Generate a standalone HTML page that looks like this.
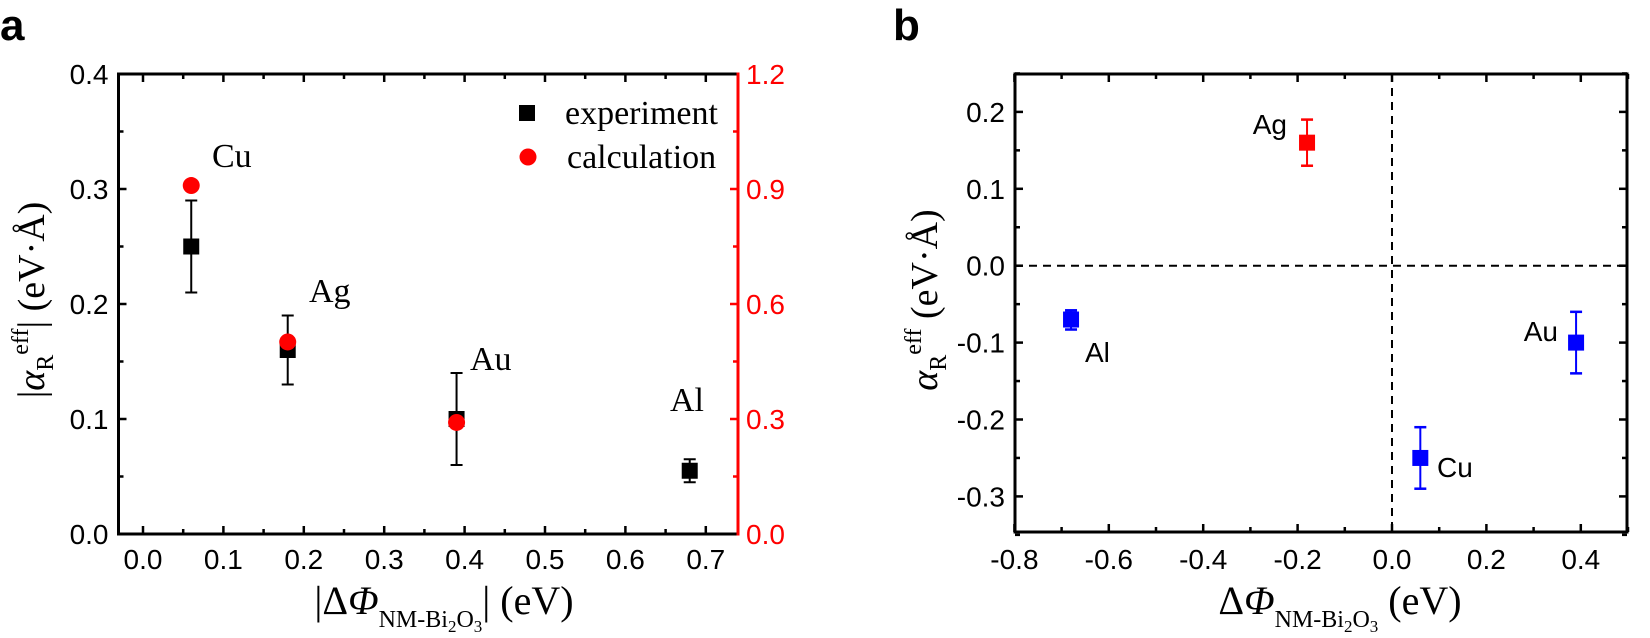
<!DOCTYPE html>
<html><head><meta charset="utf-8"><style>
html,body{margin:0;padding:0;background:#fff;width:1650px;height:638px;overflow:hidden}
svg{display:block}
.t{font-family:"Liberation Sans",sans-serif;font-size:28px}
.s{font-family:"Liberation Serif",serif}
</style></head><body>
<svg id="c" width="1650" height="638" viewBox="0 0 1650 638" xmlns="http://www.w3.org/2000/svg">
<text x="0" y="40" font-family="Liberation Sans,sans-serif" font-weight="bold" font-size="44">a</text>
<text x="893" y="40" font-family="Liberation Sans,sans-serif" font-weight="bold" font-size="44">b</text>
<text class="s" x="444" y="614" font-size="40" text-anchor="middle">|Δ<tspan font-style="italic">Φ</tspan><tspan font-size="24" dy="13">NM-Bi<tspan font-size="17" dy="5">2</tspan><tspan dy="-5">O</tspan><tspan font-size="17" dy="5">3</tspan></tspan><tspan dy="-18">| (eV)</tspan></text>
<text class="s" x="1340" y="614" font-size="40" text-anchor="middle">Δ<tspan font-style="italic">Φ</tspan><tspan font-size="24" dy="13">NM-Bi<tspan font-size="17" dy="5">2</tspan><tspan dy="-5">O</tspan><tspan font-size="17" dy="5">3</tspan></tspan><tspan dy="-18"> (eV)</tspan></text>
<g transform="translate(44,300) rotate(-90)"><text class="s" x="0" y="0" font-size="38" text-anchor="middle">|<tspan font-style="italic">α</tspan><tspan font-size="24" dy="9">R</tspan><tspan font-size="24" dy="-25">eff</tspan><tspan dy="16">| (eV·Å)</tspan></text></g>
<g transform="translate(937,300) rotate(-90)"><text class="s" x="0" y="0" font-size="38" text-anchor="middle"><tspan font-style="italic">α</tspan><tspan font-size="24" dy="9">R</tspan><tspan font-size="24" dy="-25">eff</tspan><tspan dy="16"> (eV·Å)</tspan></text></g>
</svg>
<script>
const S=document.getElementById('c'),NS='http://www.w3.org/2000/svg';
function el(t,a,txt){const e=document.createElementNS(NS,t);for(const k in a)e.setAttribute(k,a[k]);if(txt!==undefined)e.textContent=txt;S.appendChild(e);return e;}
function line(x1,y1,x2,y2,c,w,d){const a={x1,y1,x2,y2,stroke:c||'#000','stroke-width':w||2};if(d)a['stroke-dasharray']=d;el('line',a);}
{const L=118.5,R=738,T=74,B=534;
const X=v=>143+(v)*804, Y=v=>534-v*1150;
for(let i=0;i<=14;i++){const v=i*0.05;const x=X(v);const len=i%2==0?8:5;line(x,B,x,B-len,'#000',2.5);line(x,T,x,T+len,'#000',2.5);
if(i%2==0)el('text',{class:'t',x:x,y:569,'text-anchor':'middle'},v.toFixed(1));}
for(let i=0;i<=8;i++){const v=i*0.05;const y=Y(v);const len=i%2==0?8:5;line(L,y,L+len,y,'#000',2.5);line(R,y,R-len,y,'red',2.5);
if(i%2==0){el('text',{class:'t',x:L-10,y:y+10,'text-anchor':'end'},v.toFixed(1));el('text',{class:'t',x:R+8,y:y+10,fill:'red'},(v*3).toFixed(1));}}
line(L,T,R,T,'#000',3);line(L,B,R,B,'#000',3);line(L,T-1.5,L,B+1.5,'#000',3);line(R,T-1.5,R,B+1.5,'red',3);
const d=[[0.06,0.25,0.21,0.29,0.303],[0.18,0.16,0.13,0.19,0.167],[0.39,0.10,0.06,0.14,0.097],[0.68,0.055,0.045,0.065,null]];
d.forEach(p=>{const x=X(p[0]);line(x,Y(p[2]),x,Y(p[3]),'#000',2);line(x-6,Y(p[2]),x+6,Y(p[2]),'#000',2);line(x-6,Y(p[3]),x+6,Y(p[3]),'#000',2);
el('rect',{x:x-8,y:Y(p[1])-8,width:16,height:16,fill:'#000'});});
d.forEach(p=>{if(p[4]!==null)el('circle',{cx:X(p[0]),cy:Y(p[4]),r:8.5,fill:'red'});});
el('rect',{x:519,y:105,width:16,height:16,fill:'#000'});el('circle',{cx:528,cy:157,r:8.5,fill:'red'});
el('text',{class:'s','font-size':34,x:565,y:124},'experiment');el('text',{class:'s','font-size':34,x:567,y:168},'calculation');
[['Cu',212,167],['Ag',309,302],['Au',470,370],['Al',670,411]].forEach(l=>el('text',{class:'s','font-size':34,x:l[1],y:l[2]},l[0]));
}
{const L=1015,R=1627,T=74,B=532;
const X=v=>1392+v*472, Y=v=>265.7-v*769;
for(let i=0;i<=13;i++){const v=-0.8+i*0.1;const x=X(v);const len=i%2==0?8:5;line(x,B,x,B-len,'#000',2.5);line(x,T,x,T+len,'#000',2.5);
if(i%2==0)el('text',{class:'t',x:x,y:569,'text-anchor':'middle'},(Math.abs(v)<1e-9?0:v).toFixed(1));}
for(let i=0;i<=12;i++){const v=-0.35+i*0.05;const y=Y(v);const k=Math.round(v*100);const maj=k%10==0;const len=maj?8:5;line(L,y,L+len,y,'#000',2.5);line(R,y,R-len,y,'#000',2.5);
if(maj&&v>-0.34&&v<0.24)el('text',{class:'t',x:L-10,y:y+10,'text-anchor':'end'},(Math.abs(v)<1e-9?0:v).toFixed(1));}
line(L,T,R,T,'#000',3);line(L,B,R,B,'#000',3);line(L,T-1.5,L,B+1.5,'#000',3);line(R,T-1.5,R,B+1.5,'#000',3);
line(X(0),T,X(0),B,'#000',2,'8,6');line(L,Y(0),R,Y(0),'#000',2,'8,6');
const d=[[-0.18,0.16,0.13,0.19,'red'],[-0.68,-0.07,-0.058,-0.083,'blue'],[0.39,-0.10,-0.06,-0.14,'blue'],[0.06,-0.25,-0.21,-0.29,'blue']];
d.forEach(p=>{const x=X(p[0]),c=p[4];line(x,Y(p[2]),x,Y(p[3]),c,2);line(x-6,Y(p[2]),x+6,Y(p[2]),c,2.5);line(x-6,Y(p[3]),x+6,Y(p[3]),c,2.5);
el('rect',{x:x-8,y:Y(p[1])-8,width:16,height:16,fill:c});});
[['Ag',1287,134,'end'],['Al',1085,362,'start'],['Au',1558,341,'end'],['Cu',1437,477,'start']].forEach(l=>el('text',{class:'t','font-size':34,x:l[1],y:l[2],'text-anchor':l[3]},l[0]));
}
</script>
</body></html>
